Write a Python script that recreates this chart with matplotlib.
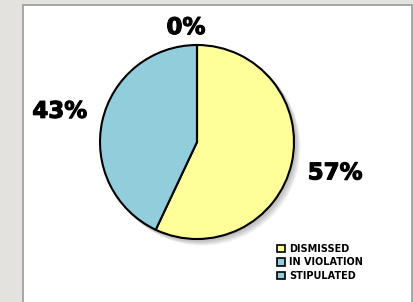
import numpy as np
import matplotlib
matplotlib.use("Agg")
import matplotlib.pyplot as plt
import matplotlib.patheffects as pe
from matplotlib.patches import Rectangle

categories = ["DISMISSED", "IN VIOLATION", "STIPULATED"]
values = [57, 43, 0]
colors = ["#ffff99", "#92cddc", "#92cddc"]
label_dist = [1.46, 1.45, 1.18]

W, H = 413, 302
fig = plt.figure(figsize=(W / 100, H / 100), dpi=100, facecolor="#e3e2de")
ax = fig.add_axes([0, 0, 1, 1])

cx, cy, r = 197, H - 142, 97

wedges, _ = ax.pie(values, colors=colors, startangle=90, counterclock=False,
                   center=(cx, cy), radius=r,
                   wedgeprops=dict(edgecolor="black", linewidth=1.5))
for w in wedges:
    w.set_zorder(2)

ax.set_xlim(0, W)
ax.set_ylim(0, H)
ax.set_aspect("equal")
ax.axis("off")

# white panel with grey border
ax.add_patch(Rectangle((22.5, -5), 389, H - 4.5 + 5, facecolor="white",
                       edgecolor="#9a9a9a", lw=1.2, zorder=-1))

# soft shadow under the pie
for k in range(5):
    ax.add_patch(plt.Circle((cx + 1.5 + k, cy - 1.5 - k), r + 1, color="black",
                            alpha=0.05, lw=0, zorder=0))

total = sum(values)
for w, v, d in zip(wedges, values, label_dist):
    ang = np.deg2rad((w.theta1 + w.theta2) / 2)
    x = cx + d * r * np.cos(ang)
    y = cy + d * r * np.sin(ang)
    # the 0% label sits a little left of the top
    if v == 0:
        x -= 11
    ax.text(x, y, f"{round(100 * v / total)}%", ha="center", va="center",
            fontsize=16.5, fontweight="bold", family="DejaVu Sans",
            path_effects=[pe.withStroke(linewidth=0.8, foreground="black")])

handles = [Rectangle((0, 0), 1, 1, facecolor=c, edgecolor="black", lw=1.2)
           for c in colors]
ax.legend(handles, categories, loc="upper left",
          bbox_to_anchor=(270 / W, 1 - 237 / H), frameon=False,
          prop=dict(family="DejaVu Sans", weight="bold", size=7),
          handlelength=0.8, handleheight=0.8, handletextpad=0.45,
          labelspacing=0.35, borderpad=0.2)

fig.savefig("out.png", dpi=100, facecolor=fig.get_facecolor())
